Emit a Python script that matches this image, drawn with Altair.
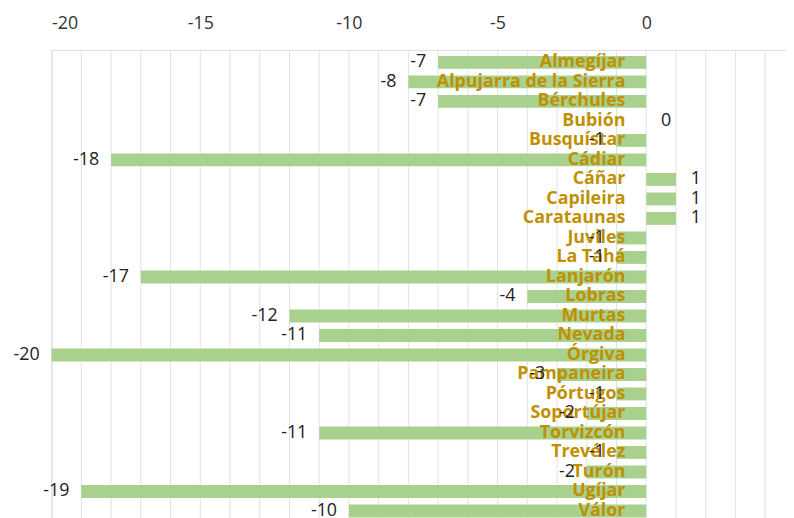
import altair as alt
import pandas as pd

municipios = ["Almegíjar", "Alpujarra de la Sierra", "Bérchules", "Bubión", "Busquístar",
              "Cádiar", "Cáñar", "Capileira", "Carataunas", "Juviles", "La Tahá",
              "Lanjarón", "Lobras", "Murtas", "Nevada", "Órgiva", "Pampaneira",
              "Pórtugos", "Soportújar", "Torvizcón", "Trevélez", "Turón", "Ugíjar", "Válor"]
valores = [-7, -8, -7, 0, -1, -18, 1, 1, 1, -1, -1, -17, -4, -12, -11, -20, -3,
           -1, -2, -11, -1, -2, -19, -10]
etiquetas_x = [-20, -15, -10, -5, 0]
rejilla_x = list(range(-20, 5))

df = pd.DataFrame({"municipio": municipios, "valor": valores,
                   "idx": list(range(len(municipios)))})
df["etiqueta"] = [str(v) for v in valores]
grid_df = pd.DataFrame({"g": rejilla_x})

FONT = "Open Sans"
xscale = alt.Scale(domain=[-20, 4.7], nice=False, zero=False)
yscale = alt.Scale(domain=[-0.64, 23.5], reverse=True, nice=False, zero=False, padding=0)

x_axis = alt.Axis(orient="top", values=etiquetas_x,
                  labelExpr="'' + datum.value",
                  labelOverlap=False,
                  ticks=False, domain=False, grid=False,
                  labelFont=FONT, labelFontSize=18, labelColor="#333333",
                  labelPadding=18, title=None)

grid = alt.Chart(grid_df).mark_rule(color="#e2e2e2", strokeWidth=1).encode(
    x=alt.X("g:Q", scale=xscale, axis=x_axis),
)

base = alt.Chart(df)

bars = base.mark_bar(color="#a9d18e", orient="horizontal", size=13).encode(
    x=alt.X("valor:Q", scale=xscale, axis=x_axis),
    x2=alt.datum(0),
    y=alt.Y("idx:Q", scale=yscale, axis=None),
)

names = base.mark_text(align="right", baseline="middle", dx=-21, font=FONT,
                       fontSize=18, fontWeight="bold", color="#bf9000").encode(
    x=alt.datum(0),
    y=alt.Y("idx:Q", scale=yscale),
    text="municipio:N",
)

neg_labels = base.transform_filter("datum.valor < 0").mark_text(
    align="right", baseline="middle", dx=-12, font=FONT, fontSize=18,
    color="#222222").encode(
    x=alt.X("valor:Q", scale=xscale),
    y=alt.Y("idx:Q", scale=yscale),
    text="etiqueta:N",
)

pos_labels = base.transform_filter("datum.valor >= 0").mark_text(
    align="left", baseline="middle", dx=15, font=FONT, fontSize=18,
    color="#222222").encode(
    x=alt.X("valor:Q", scale=xscale),
    y=alt.Y("idx:Q", scale=yscale),
    text="etiqueta:N",
)

chart = alt.layer(grid, bars, names, neg_labels, pos_labels).properties(
    width=741, height=475,
    autosize=alt.AutoSizeParams(type="none"),
    padding={"left": 44, "top": 40, "right": 0, "bottom": 0},
).configure_view(stroke=None).configure(background="white")

chart.save("out.html", embed_options={"renderer": "svg", "actions": False})
